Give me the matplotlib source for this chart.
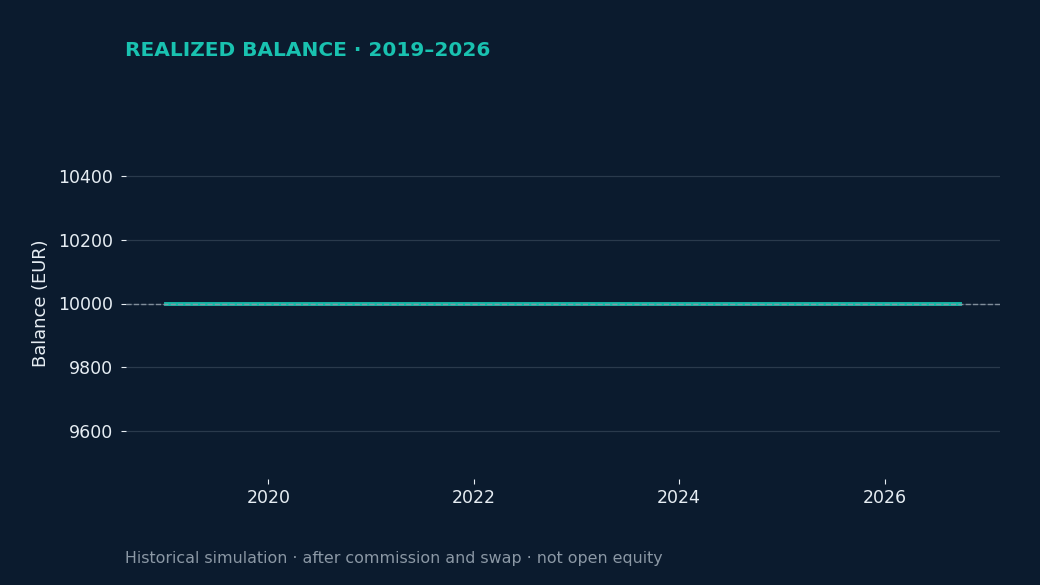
import pandas as pd
import matplotlib.pyplot as plt
import matplotlib.dates as mdates

plt.rcParams['font.family'] = ['DejaVu Sans']

# realized balance after each closed period (no trades closed -> flat)
dates = ['2019-01-01', '2020-01-01', '2021-01-01', '2022-01-01', '2023-01-01',
         '2024-01-01', '2025-01-01', '2026-01-01', '2026-09-27']
balance = [10000, 10000, 10000, 10000, 10000, 10000, 10000, 10000, 10000]
start_balance = 10000
y_ticks = [9600, 9800, 10000, 10200, 10400]

bg = '#0b1b2e'
teal = '#14b8a6'
text_col = '#e6edf3'
muted = '#8b98a5'

df = pd.DataFrame({'Date': pd.to_datetime(dates), 'Balance': balance})

fig = plt.figure(figsize=(10.4, 5.85), dpi=100, facecolor=bg)
ax = fig.add_axes([126/1040, 1 - 479/585, (1000 - 126)/1040, (479 - 128)/585])
ax.set_facecolor(bg)

ax.plot(df['Date'], df['Balance'], color=teal, linewidth=2.8, zorder=2)
ax.axhline(start_balance, color=muted, linestyle='--', linewidth=1.0, alpha=0.9, zorder=3)

ax.set_ylim(start_balance - 550, start_balance + 550)
ax.set_yticks(y_ticks)
ax.xaxis.set_major_locator(mdates.YearLocator(2))
ax.xaxis.set_major_formatter(mdates.DateFormatter('%Y'))
ax.grid(axis='y', color='#2a3a4c', linewidth=0.9)
ax.grid(axis='x', visible=False)
for s in ax.spines.values():
    s.set_visible(False)
ax.tick_params(colors=text_col, labelsize=12.5)
ax.tick_params(axis='y', pad=5.5)
ax.set_ylabel('Balance (EUR)', color=text_col, fontsize=12.9, labelpad=6)

fig.text(125/1040, 1 - 51/585, 'REALIZED BALANCE \u00b7 2019\u20132026', color='#19c2b0',
         fontsize=14.5, fontweight='bold', va='center', ha='left')
fig.text(125/1040, 1 - 559/585,
         'Historical simulation \u00b7 after commission and swap \u00b7 not open equity',
         color=muted, fontsize=11.4, va='center', ha='left')

fig.savefig('out.png', dpi=100, facecolor=bg)
